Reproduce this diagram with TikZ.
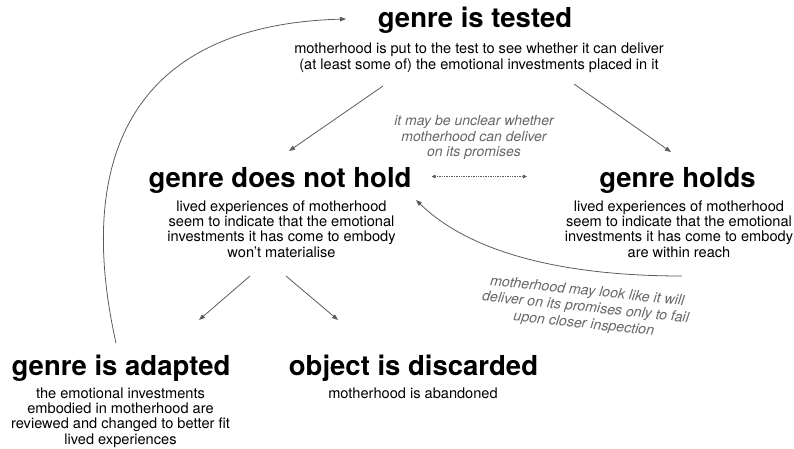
\documentclass[tikz,border=0pt]{standalone}
\usepackage{fontspec}
\setmainfont{TeX Gyre Heros}
\usetikzlibrary{arrows.meta}
\definecolor{arrowgray}{HTML}{5C5C5C}
\definecolor{notegray}{HTML}{666666}
\newcommand\blk[1]{\begin{tabular}[t]{@{}c@{}}#1\end{tabular}}
\tikzset{
  title/.style={anchor=base, inner sep=0pt, font=\fontsize{27.5}{30}\selectfont\bfseries},
  sub/.style={anchor=base, inner sep=0pt, font=\fontsize{14.6}{15.4}\selectfont},
  note/.style={inner sep=0pt, text=notegray, font=\fontsize{14}{15.2}\selectfont\itshape},
  conn/.style={draw=arrowgray, line width=0.8pt, -{Triangle[length=6pt,width=4.5pt]}},
  dots/.style={draw=arrowgray, line width=0.7pt, dash pattern=on 0.8pt off 0.9pt,
    {Triangle[length=4pt,width=3.5pt]}-{Triangle[length=4pt,width=3.5pt]}},
}
\begin{document}
\begin{tikzpicture}[x=1pt,y=-1pt]
\useasboundingbox (0,0) rectangle (794,449);
% texts
\node[title] (tested) at (475,28) {genre is tested};
\node[sub] (testedS) at (479,54) {\blk{motherhood is put to the test to see whether it can deliver\\(at least some of) the emotional investments placed in it}};
\node[note, anchor=base] (unclear) at (474,126) {\blk{it may be unclear whether\\motherhood can deliver\\on its promises}};
\node[title] (nothold) at (280,187) {genre does not hold};
\node[sub] (notholdS) at (281.5,211) {\blk{lived experiences of motherhood\\seem to indicate that the emotional\\investments it has come to embody\\won’t materialise}};
\node[title] (holds) at (677.5,187) {genre holds};
\node[sub] (holdsS) at (679,211) {\blk{lived experiences of motherhood\\seem to indicate that the emotional\\investments it has come to embody\\are within reach}};
\node[note, rotate=-6, font=\fontsize{14.2}{16.5}\selectfont\itshape] (fail) at (585.5,308.5) {\blk{motherhood may look like it will\\deliver on its promises only to fail\\upon closer inspection}};
\node[title] (adapted) at (121,375) {genre is adapted};
\node[sub] (adaptedS) at (120.5,398) {\blk{the emotional investments\\embodied in motherhood are\\reviewed and changed to better fit\\lived experiences}};
\node[title] (discard) at (413.5,375) {object is discarded};
\node[sub] (discardS) at (413,398) {motherhood is abandoned};
% connector end points
\coordinate (tL0) at (383,86);
\coordinate (tL1) at (289,151);
\coordinate (tR0) at (574,84);
\coordinate (tR1) at (671,152);
\coordinate (dA) at (431.5,176.5);
\coordinate (dB) at (527,176.5);
\coordinate (fA) at (682,276);
\coordinate (fB) at (416,200);
\coordinate (bL0) at (250,276);
\coordinate (bL1) at (199,320);
\coordinate (bR0) at (286,276);
\coordinate (bR1) at (338,320);
\coordinate (aA) at (116,343);
\coordinate (aB) at (346,19);
% connectors
\draw[conn] (tL0) -- (tL1);
\draw[conn] (tR0) -- (tR1);
\draw[dots] (dA) -- (dB);
\draw[conn] (fA) .. controls (590,276) and (480,262) .. (fB);
\draw[conn] (bL0) -- (bL1);
\draw[conn] (bR0) -- (bR1);
\draw[conn] (aA) .. controls (75,160) and (130,25) .. (aB);
\end{tikzpicture}
\end{document}
